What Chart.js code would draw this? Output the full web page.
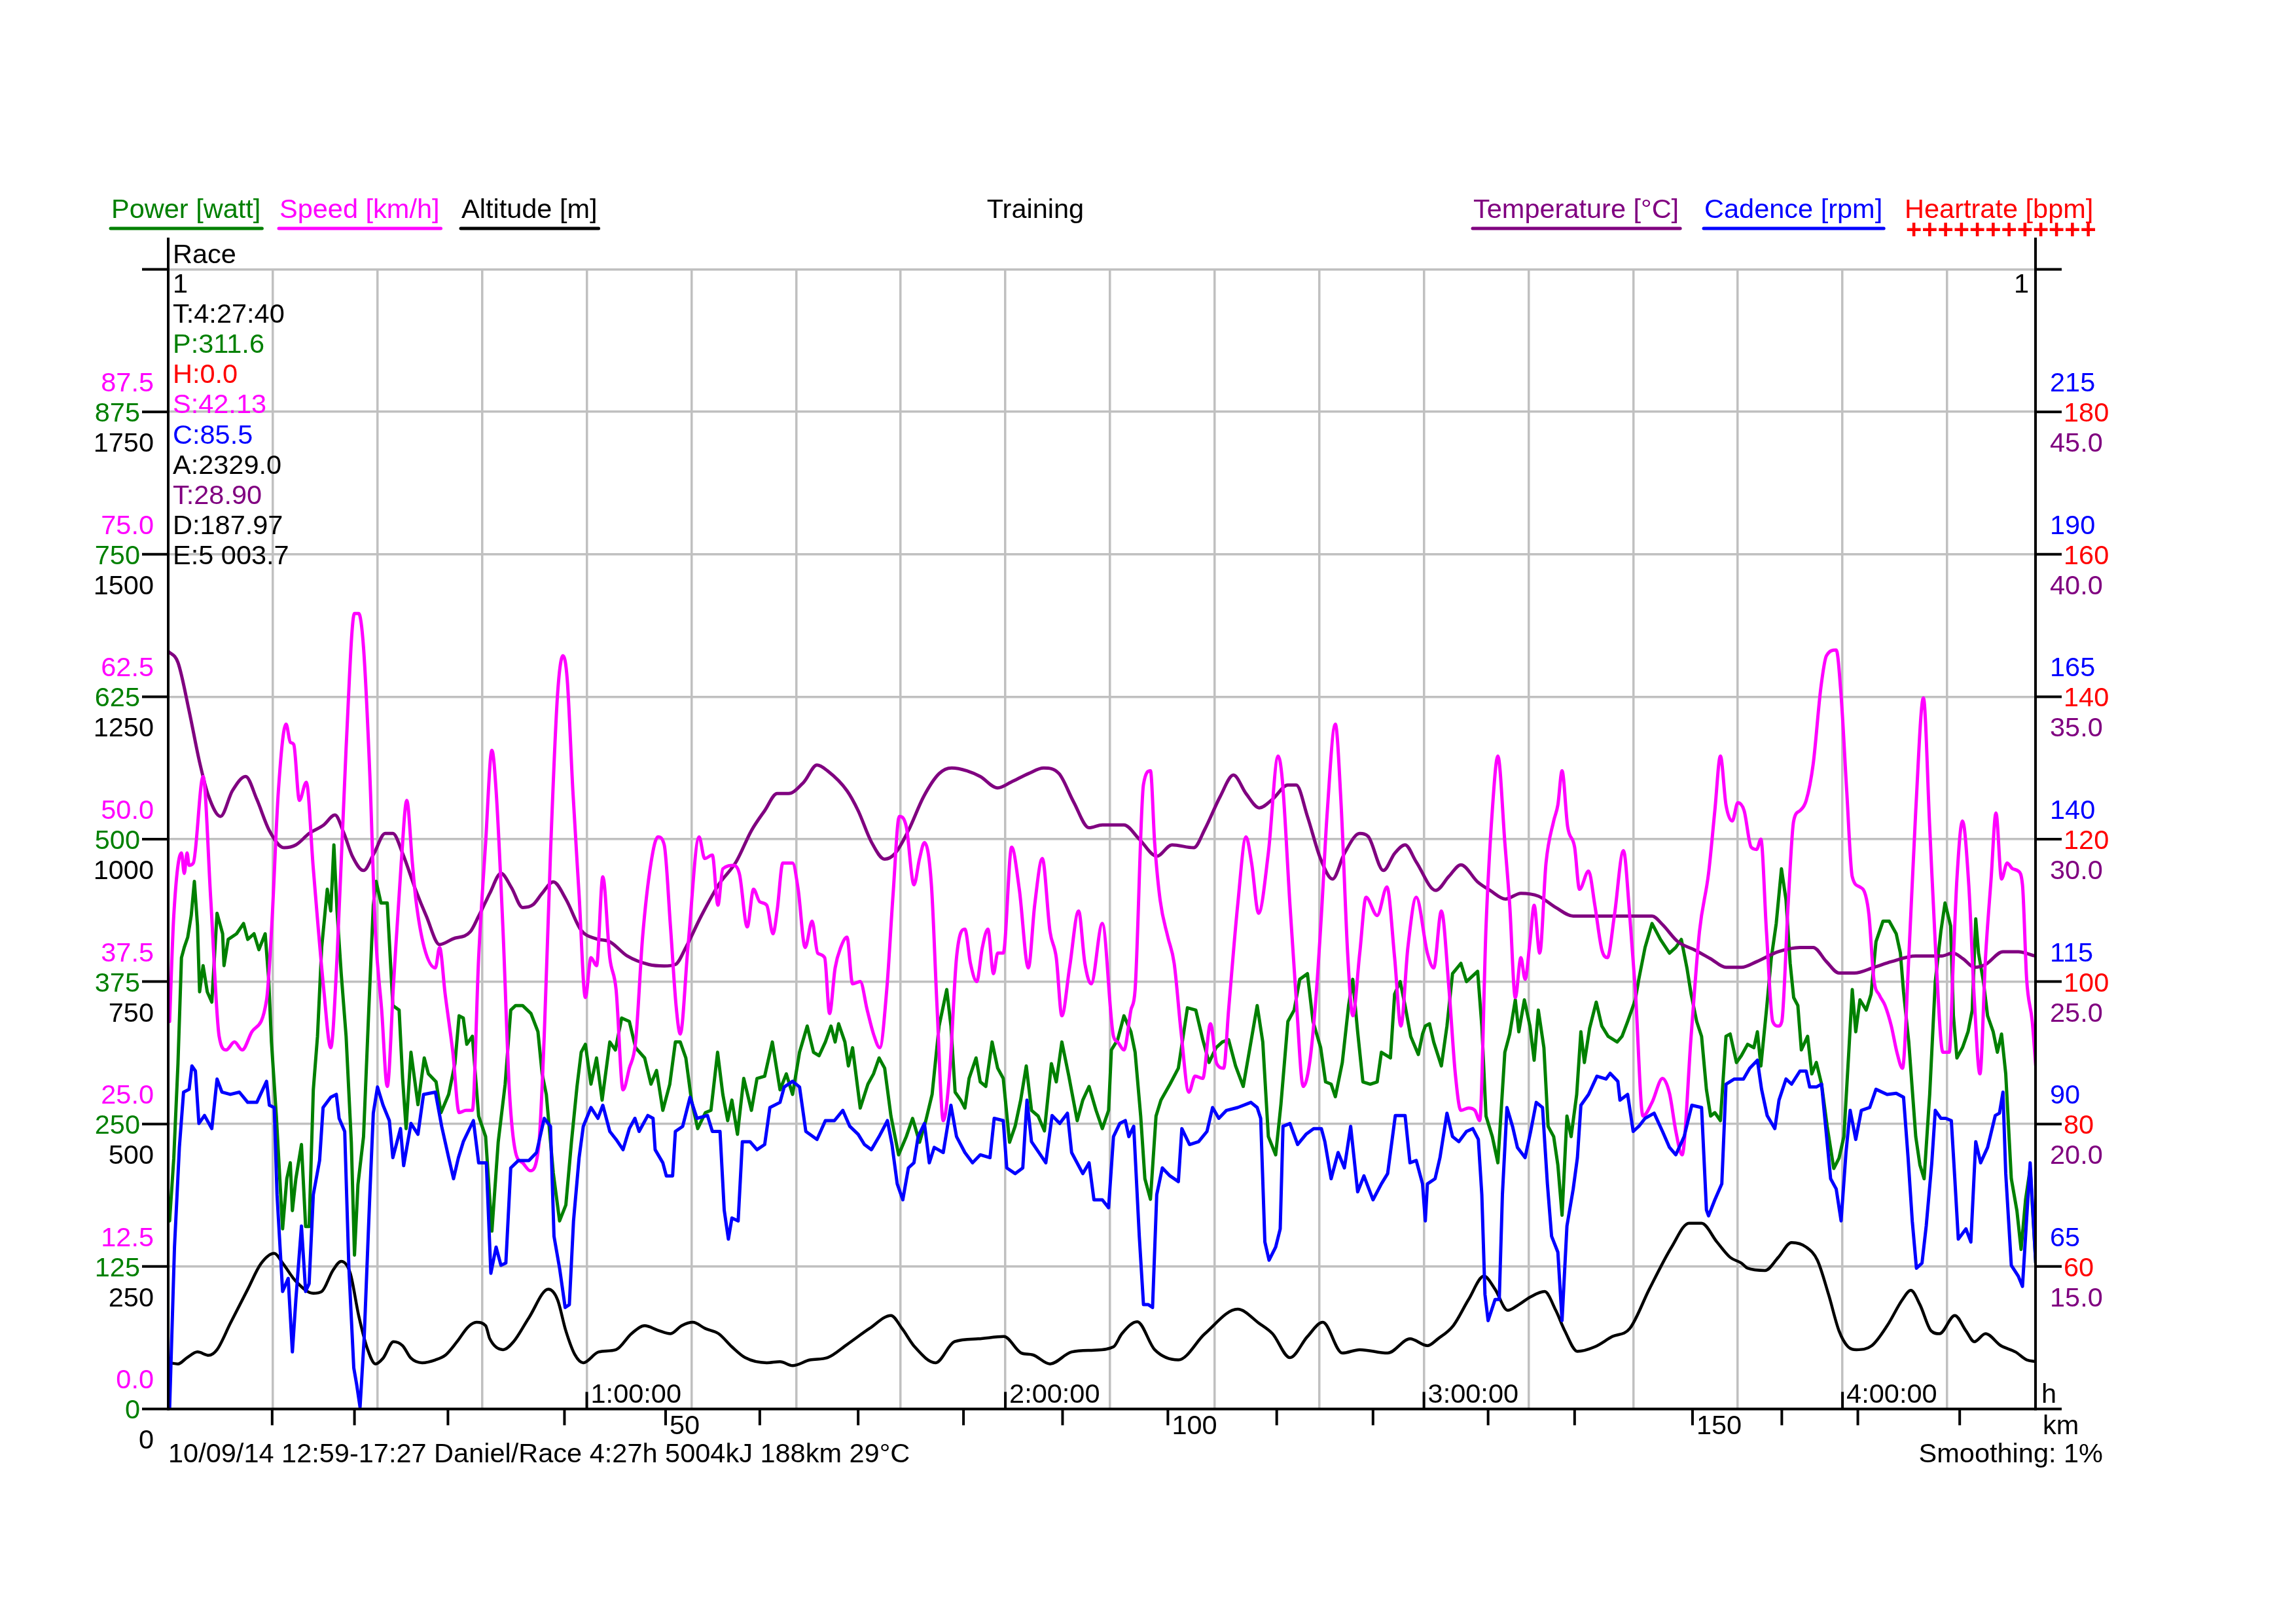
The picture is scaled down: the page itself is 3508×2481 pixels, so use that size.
<!DOCTYPE html>
<html><head><meta charset="utf-8">
<script src="https://cdn.jsdelivr.net/npm/chart.js@4.4.1/dist/chart.umd.min.js"></script>
<style>html,body{margin:0;padding:0;background:#fff;}canvas{display:block;}</style>
</head><body>
<canvas id="c" width="3508" height="2481" style="width:3508px;height:2481px"></canvas>
<script>
// ---------- data (time in minutes, value in series unit) ----------
const speedData = [[0.2,34.0],[0.8,43.3],[1.9,48.8],[2.3,47.0],[2.7,48.8],[3.0,47.7],[3.6,47.9],[5.0,55.5],[6.1,44.7],[7.3,32.7],[8.3,31.5],[9.5,32.2],[10.6,31.5],[12.0,33.1],[14.1,35.9],[14.8,41.9],[15.8,54.3],[16.9,60.1],[17.5,58.5],[18.0,58.3],[18.8,53.4],[19.8,55.0],[20.8,47.4],[22.3,36.8],[23.3,31.7],[24.2,39.6],[25.5,58.0],[26.7,69.8],[27.3,69.8],[28.0,66.8],[28.9,55.7],[29.7,41.9],[30.6,35.0],[31.4,28.3],[32.3,37.3],[33.4,47.9],[34.2,53.4],[35.0,47.9],[35.5,44.7],[36.7,40.5],[38.3,38.7],[38.9,40.5],[39.7,36.4],[40.8,31.3],[41.7,26.0],[42.7,26.2],[43.6,26.2],[44.5,39.6],[45.5,49.7],
[46.4,57.8],[47.0,54.3],[48.0,41.9],[48.9,28.0],[49.8,22.5],[50.8,21.6],[51.9,20.9],[53.1,23.0],[53.9,32.7],[54.8,48.8],[55.8,62.6],[56.6,66.1],[57.2,64.0],[58.0,54.3],[58.9,45.1],[59.8,36.1],[60.6,39.6],[61.4,38.9],[62.3,46.7],[63.3,39.6],[64.2,36.8],[65.2,28.0],[66.1,29.9],[67.0,32.2],[68.0,41.4],[69.2,47.9],[70.2,50.2],[71.1,49.5],[72.0,42.3],[72.8,35.4],[73.4,32.9],[74.5,40.5],[76.1,50.2],[76.9,48.3],[78.0,48.6],[78.8,44.2],[79.5,47.4],[81.1,47.7],[81.9,46.9],[83.0,42.3],[83.9,45.6],[84.8,44.5],[85.8,44.2],[86.7,41.7],[87.3,43.8],[88.1,47.9],[89.5,47.9],
[90.3,45.6],[91.3,40.5],[92.3,42.8],[93.1,40.0],[94.1,39.6],[94.8,34.7],[95.6,38.7],[96.4,40.5],[97.3,41.4],[98.1,37.3],[99.2,37.5],[100.2,35.0],[101.1,32.9],[102.0,31.7],[103.0,36.8],[103.9,45.1],[104.8,52.0],[105.8,51.1],[106.9,46.0],[107.7,48.3],[108.4,49.7],[109.4,46.0],[110.2,35.4],[111.1,25.3],[112.0,29.4],[113.0,39.6],[114.2,42.1],[115.0,39.1],[115.9,37.5],[116.7,40.5],[117.5,42.1],[118.3,38.2],[118.9,40.0],[119.7,40.0],[120.9,49.3],[122.0,45.6],[123.3,38.7],[124.2,44.2],[125.3,48.3],[126.4,41.9],[127.3,39.6],[128.1,34.5],[129.2,38.7],[130.5,43.7],[131.4,39.1],[132.3,37.3],[133.9,42.6],
[135.5,32.7],[136.1,32.2],[137.0,31.5],[138.0,35.0],[138.6,36.8],[139.8,54.8],[140.8,56.0],[141.4,49.7],[142.2,44.6],[143.3,41.4],[144.2,39.1],[145.2,33.0],[146.3,27.8],[147.2,29.2],[148.3,29.0],[149.4,33.8],[150.3,30.3],[151.3,29.9],[152.0,35.0],[153.3,44.2],[154.5,50.2],[155.3,47.9],[156.3,43.5],[157.7,48.8],[159.1,57.3],[159.7,55.2],[160.8,44.2],[161.7,35.9],[162.7,28.3],[163.6,30.3],[164.5,35.9],[165.3,43.3],[166.1,52.0],[167.3,60.1],[168.1,53.4],[169.1,39.6],[169.8,34.5],[170.8,40.0],[171.7,44.9],[173.3,43.3],[174.7,45.8],[175.8,39.6],[176.7,33.6],[177.7,40.5],[178.9,44.9],
[180.5,40.0],[181.4,38.7],[182.5,43.7],[183.6,36.8],[184.5,29.4],[185.3,26.2],[186.4,26.4],[187.3,26.2],[188.0,25.3],[188.9,42.3],[189.8,52.5],[190.6,57.3],[191.6,49.7],[192.3,44.2],[193.1,36.1],[193.9,39.6],[194.5,37.7],[195.2,41.0],[195.8,44.2],[196.6,40.0],[197.5,47.9],[198.6,51.6],[199.2,53.0],[199.8,56.0],[200.6,51.1],[201.6,49.3],[202.3,45.6],[203.6,47.2],[204.5,44.2],[205.5,40.3],[206.3,39.6],[207.3,43.3],[208.6,49.0],[209.5,43.3],[210.3,36.8],[211.4,25.7],[212.7,26.9],[214.2,29.0],[215.2,27.7],[216.1,24.4],[217.0,22.3],[218.3,32.7],[219.5,41.9],[220.8,47.0],[221.7,52.5],[222.5,57.3],[223.3,53.0],[224.2,51.6],[225.0,53.2],
[225.9,52.5],[226.9,49.3],[227.7,49.1],[228.3,50.0],[229.1,41.9],[230.0,34.0],[230.8,33.6],[231.3,34.0],[232.2,44.2],[233.0,51.6],[233.9,52.5],[234.8,53.4],[235.8,56.6],[236.9,63.3],[237.7,66.1],[239.1,66.6],[239.8,62.6],[240.6,54.3],[241.4,46.7],[242.5,45.8],[243.3,45.1],[243.8,43.3],[244.5,37.7],[245.3,36.3],[246.1,35.4],[247.0,33.6],[247.8,31.3],[248.6,29.9],[249.5,39.6],[250.5,52.5],[251.6,62.4],[252.5,51.1],[253.4,39.6],[254.4,31.3],[255.3,31.3],[255.9,39.6],[256.4,46.5],[257.2,51.6],[258.1,46.0],[258.9,35.9],[259.7,29.4],[260.5,39.6],[261.3,46.5],[262.0,52.3],[262.8,46.5],[263.6,47.9],[264.4,47.4],[265.2,47.2],[265.8,46.0],[266.4,37.7],[267.2,34.0],[267.7,30.1]];

const powerData = [[0.2,165],[0.8,220],[1.4,303],[1.9,396],[2.3,405],[2.8,414],[3.3,433],[3.75,463],[4.2,424],[4.5,366],[5.0,389],[5.6,366],[6.25,357],[7.0,435],[7.8,417],[8.0,389],[8.6,412],[9.8,417],[10.8,426],[11.4,412],[12.3,417],[13.0,403],[13.9,417],[14.4,377],[14.8,322],[15.5,257],[16.4,158],[17.0,202],[17.5,216],[17.8,174],[18.3,202],[19.1,232],[19.7,160],[20.2,160],[20.8,280],[21.4,327],[22.0,405],[22.8,456],[23.3,437],[23.75,495],[24.2,437],[24.8,382],[25.5,327],[26.25,234],[26.7,135],[27.2,197],[28.0,239],[28.75,350],[29.4,442],[29.8,463],[30.5,444],[31.4,444],[32.2,354],[33.1,350],[33.6,290],[34.1,246],[34.8,313],[35.8,267],[36.7,308],[37.3,294],[38.4,287],[39.1,260],[40.2,276],[41.1,303],[41.7,345],[42.3,343],[42.8,320],[43.6,327],[44.5,257],[45.5,239],
[46.4,156],[47.3,234],[48.3,285],[49.1,350],[49.8,354],[50.8,354],[52.0,347],[53.0,331],[53.6,294],[54.2,276],[55.2,207],[56.1,165],[57.0,179],[57.8,234],[58.6,283],[59.2,313],[59.8,320],[60.6,285],[61.4,308],[62.2,271],[63.3,322],[64.1,315],[65.0,343],[66.1,340],[67.0,317],[68.3,308],[69.2,285],[70.0,297],[70.9,262],[71.9,285],[72.7,322],[73.4,322],[74.2,308],[75.0,271],[75.9,246],[77.0,260],[77.8,262],[78.75,313],[79.5,276],[80.2,253],[80.8,271],[81.6,241],[82.5,290],[83.6,262],[84.4,290],[85.5,292],[86.6,322],[87.7,280],[88.6,294],[89.5,276],
[90.5,313],[91.6,336],[92.5,313],[93.3,310],[94.2,322],[95.0,336],[95.6,322],[96.1,338],[97.0,322],[97.5,301],[98.1,317],[99.2,264],[100.3,285],[101.1,294],[101.9,308],[102.7,299],[103.6,257],[104.7,223],[105.8,239],[106.7,255],[107.7,234],[108.6,253],[109.5,276],[110.5,336],[111.6,368],[112.2,336],[112.8,278],[113.6,271],[114.2,264],[114.8,290],[115.8,308],[116.4,287],[117.2,283],[118.1,322],[118.9,299],[119.7,290],[120.6,234],[121.4,248],[122.2,271],[123.0,301],[123.75,262],[124.7,257],[125.6,244],[126.6,303],[127.3,287],[128.1,322],[129.1,292],[130.3,253],[131.1,271],[132.0,283],[133.0,262],[133.9,246],[134.8,262],
[135.2,315],[136.1,324],[137.0,345],[138.0,331],[138.6,313],[139.4,257],[140.0,202],[140.8,184],[141.6,257],[142.3,271],[143.6,285],[144.8,299],[146.1,352],[147.3,350],[148.3,324],[149.2,304],[150.2,317],[151.1,322],[152.0,324],[153.0,301],[154.1,283],[155.2,322],[156.1,354],[156.9,322],[157.7,239],[158.75,223],[159.5,267],[160.5,340],[161.4,350],[162.2,377],[163.3,382],[164.1,340],[165.2,317],[165.9,287],[166.7,285],[167.3,274],[168.3,304],[169.2,354],[169.8,377],[170.5,331],[171.25,287],[172.3,285],[173.3,287],[173.9,313],[175.2,308],[175.8,364],[176.6,375],[177.3,354],[178.1,327],[179.2,311],[179.8,329],
[180.2,336],[180.8,338],[181.4,322],[182.5,301],[183.3,336],[184.1,382],[185.3,391],[186.1,375],[187.7,384],[188.3,336],[188.9,257],[189.8,239],[190.6,216],[191.6,313],[192.3,329],[193.1,359],[193.6,331],[194.4,359],[195.2,336],[195.8,306],[196.4,350],[197.2,317],[197.8,248],[198.6,239],[199.2,214],[199.8,170],[200.5,257],[201.1,239],[201.9,276],[202.5,331],[203.0,304],[203.75,334],[204.7,357],[205.5,336],[206.4,327],[207.7,322],[208.4,327],[209.2,340],[210.3,359],[210.8,377],[211.7,405],[212.7,426],[213.9,412],[215.2,400],[216.1,405],[216.9,412],[217.7,387],[218.3,364],[219.1,340],[219.8,327],[220.5,280],[221.1,257],[221.7,260],[222.5,253],[223.3,327],[223.9,329],[224.8,304],
[225.5,310],[226.4,320],[227.3,317],[227.8,331],[228.3,301],[229.1,350],[229.8,396],[230.5,426],[231.25,474],[231.9,447],[232.5,391],[233.0,361],[233.6,354],[234.1,315],[235.0,327],[235.6,294],[236.25,304],[237.0,285],[237.8,248],[238.75,211],[239.5,220],[240.2,239],[240.9,313],[241.4,368],[241.9,331],[242.5,359],[243.4,350],[244.1,364],[244.8,410],[245.8,428],[246.7,428],[247.7,417],[248.3,400],[248.75,366],[249.5,322],[250.5,239],[251.1,214],[251.7,202],[252.5,276],[253.3,375],[254.1,419],[254.7,444],[255.5,424],[255.9,345],[256.4,308],[257.2,317],[258.0,331],[258.6,350],[259.1,430],[259.5,400],[260.2,375],[260.8,345],[261.6,331],[262.2,313],[262.8,329],[263.4,294],[264.2,202],[265.0,174],[265.6,140],[266.25,184],[266.9,211],[267.7,128]];

const cadenceData = [[0.2,40],[0.9,68.4],[1.6,85.9],[2.2,95.6],[3.0,96.1],[3.4,100.2],[3.9,99.3],[4.4,90.1],[5.2,91.5],[6.25,89.2],[7.0,97.9],[7.7,95.6],[8.9,95.2],[10.2,95.6],[11.4,93.8],[12.7,93.8],[14.1,97.5],[14.5,93.3],[15.2,92.9],[15.6,77.6],[16.4,60.6],[17.2,62.9],[17.8,50],[18.3,59.2],[19.1,72.1],[19.7,60.6],[20.2,62],[20.8,77.6],[21.7,83.6],[22.2,92.9],[23.3,94.7],[24.1,95.2],[24.5,91],[25.3,88.7],[25.9,64.7],[26.6,47.2],[27.0,44.4],[27.5,40.3],[28.1,52.7],[28.9,77.6],[29.4,91.9],[30.0,96.5],[30.8,93.3],[31.7,90.6],[32.2,84.1],[33.3,89.2],[33.75,82.7],[34.8,90.1],[35.8,88.2],[36.6,95.2],[38.3,95.6],[39.2,89.6],[40.2,84.1],[40.9,80.4],[41.6,84.1],[42.3,86.9],[43.75,90.6],[44.5,83.2],
[45.6,83.2],[46.25,63.8],[47.0,68.4],[47.7,65.2],[48.4,65.6],[49.1,82.3],[50.2,83.6],[51.7,83.6],[52.8,85],[53.9,91],[54.8,89.6],[55.3,70.3],[56.1,64.7],[56.9,57.8],[57.5,58.3],[58.1,73],[58.9,84.1],[59.5,89.6],[60.6,92.9],[61.6,91],[62.3,93.3],[63.3,88.7],[64.2,87.3],[65.2,85.5],[66.1,89.2],[66.9,91],[67.5,88.7],[68.75,91.5],[69.5,91],[69.8,85.5],[70.9,83.2],[71.4,80.9],[72.3,80.9],[72.7,88.7],[73.75,89.6],[74.8,94.7],[75.8,91],[77.3,91.5],[78.0,88.7],[79.1,88.7],[79.7,74.9],[80.3,69.8],[80.8,73.5],[81.7,73],[82.3,86.9],[83.4,86.9],[84.4,85.5],[85.5,86.4],[86.25,92.9],[87.7,93.8],[88.3,96.5],[89.5,97.5],
[90.5,96.5],[91.4,88.7],[93.0,87.3],[94.2,90.6],[95.5,90.6],[96.7,92.4],[97.7,89.6],[98.9,88.2],[99.8,86.4],[100.8,85.5],[101.9,87.8],[103.1,90.6],[103.75,86.4],[104.5,79.5],[105.3,76.7],[106.1,82.3],[106.9,83.2],[107.5,87.8],[108.4,90.1],[109.1,83.2],[109.8,85.9],[111.1,85],[112.2,93.3],[113.0,87.8],[114.2,85],[115.3,83.2],[116.4,84.6],[117.8,84.1],[118.4,91],[119.7,90.6],[120.2,82.3],[121.4,81.3],[122.5,82.3],[123.1,94.2],[123.75,86.9],[124.8,85],[125.8,83.2],[126.7,91.5],[127.8,90.1],[128.9,91.9],[129.5,85],[131.1,81.3],[132.0,83.2],[132.7,76.7],[133.9,76.7],[134.8,75.3],[135.5,87.8],
[136.4,90.1],[137.2,90.6],[137.7,87.8],[138.4,89.6],[139.2,70.3],[139.8,58.3],[140.5,58.3],[141.1,57.8],[141.7,77.6],[142.5,82.3],[143.6,80.9],[144.8,79.9],[145.3,89.2],[146.4,86.4],[147.7,86.9],[148.9,88.7],[149.7,92.9],[150.6,91],[151.7,92.4],[153.3,92.9],[155.2,93.8],[156.1,92.9],[156.6,91],[157.2,69.3],[157.8,66.1],[158.75,68.4],[159.4,71.6],[159.8,89.6],[160.8,90.1],[161.9,86.4],[163.1,88.2],[164.2,89.2],[165.3,89.2],[165.8,86.9],[166.7,80.4],[167.7,85],[168.6,82.3],[169.5,89.6],[170.5,78.1],[171.4,80.9],[172.7,76.7],[173.9,79.5],[174.8,81.3],[175.9,91.5],[177.3,91.5],[178.0,83.2],[178.9,83.6],[179.8,79.5],
[180.2,73],[180.5,79.5],[181.6,80.4],[182.3,84.1],[183.3,91.9],[184.1,87.8],[185.0,86.9],[186.1,88.7],[187.0,89.2],[187.8,87.3],[188.3,77.6],[188.75,60.1],[189.2,55.5],[190.2,59.2],[190.8,59.2],[191.25,77.6],[191.9,92.9],[192.7,89.6],[193.4,85.9],[194.5,84.1],[195.3,88.7],[196.1,93.8],[197.0,92.9],[197.7,79.5],[198.3,70.3],[199.2,67.5],[199.8,55.5],[200.5,72.1],[201.4,78.6],[202.0,84.1],[202.5,93.3],[203.6,95.2],[204.8,98.4],[206.1,97.9],[206.7,98.9],[207.8,97.5],[208.1,94.2],[209.2,95.2],[210.0,88.7],[210.8,89.6],[211.7,91],[213.0,91.9],[214.2,88.7],[215.2,85.9],[216.1,84.6],[217.3,87.8],[218.4,93.3],[219.8,92.9],[220.5,74.9],[220.8,73.9],[221.7,76.7],[222.7,79.5],[223.3,97],[224.5,97.9],
[225.8,97.9],[226.7,99.8],[227.8,101.2],[228.4,96.1],[229.2,91.5],[230.3,89.2],[230.9,94.2],[231.9,97.9],[232.7,97],[233.9,99.3],[234.8,99.3],[235.3,96.5],[236.25,96.5],[237.0,97],[237.5,90.6],[238.3,80.4],[239.1,78.6],[239.8,73],[240.5,85],[241.1,92.4],[241.9,87.3],[242.7,92.4],[243.9,92.9],[244.8,96.1],[246.4,95.2],[247.7,95.4],[248.75,94.7],[249.4,84.1],[250.0,73],[250.6,64.7],[251.4,65.6],[252.0,72.1],[252.8,83.2],[253.3,92.4],[254.1,91],[254.8,91],[255.6,90.6],[256.1,80.4],[256.6,69.8],[257.7,71.6],[258.4,69.3],[259.1,86.9],[259.8,83.2],[260.8,85.9],[261.9,91.5],[262.5,91.9],[263.0,95.6],[263.4,81.3],[264.2,65.2],[265.2,63.3],[265.8,61.5],[266.4,73.5],[266.9,83.2],[267.7,65.6]];

const temperatureData = [[0,36.6],[1.4,36.2],[3.0,34.5],[4.5,32.7],[5.8,31.5],[7.5,30.8],[9.2,31.7],[11.1,32.2],[12.7,31.4],[14.5,30.3],[16.6,29.7],[18.3,29.8],[20.2,30.2],[22.3,30.5],[23.9,30.85],[25.2,30.2],[26.4,29.4],[28.0,28.9],[29.5,29.5],[31.1,30.2],[32.2,30.2],[33.6,29.5],[35.5,28.2],[37.0,27.3],[38.9,26.3],[40.8,26.5],[43.3,26.75],[44.5,27.3],[45.5,27.8],[46.1,28.1],[47.7,28.8],[49.2,28.3],[50.8,27.6],[52.3,27.7],[53.6,28.1],[55.2,28.5],[57.0,27.9],[59.2,26.8],[61.4,26.5],[63.3,26.4],[65.8,25.9],[68.9,25.6],[71.1,25.55],[72.7,25.6],[74.2,26.2],[76.4,27.3],[78.9,28.4],[81.4,29.2],[83.6,30.3],[85.5,31.0],[87.3,31.6],[88.9,31.6],[91.1,32.0],[93.0,32.6],[94.5,32.4],[97.3,31.7],[98.9,31.0],[100.8,29.9],[102.7,29.3],[104.2,29.5],[106.1,30.3],[108.3,31.5],[110.5,32.3],[112.3,32.5],[114.5,32.4],[116.4,32.2],[118.9,31.8],[120.8,32.0],[123.3,32.3],[125.5,32.5],[127.7,32.3],[129.8,31.3],[132.0,30.4],[133.9,30.5],[137.0,30.5],[139.2,30.0],[141.7,29.4],[143.9,29.8],[147.0,29.7],[148.6,30.35],[150.8,31.5],[152.7,32.25],[154.5,31.6],[156.4,31.1],[158.3,31.4],[160.5,31.9],[161.7,31.9],[163.3,30.8],[165.2,29.3],[166.9,28.6],[168.6,29.5],[170.8,30.2],[172.0,30.1],[174.2,28.9],[175.8,29.5],[177.3,29.8],[178.9,29.2],[181.7,28.2],[183.6,28.7],[185.3,29.1],[187.7,28.5],[189.5,28.2],[191.7,27.9],[193.9,28.1],[196.4,28.0],[198.9,27.6],[201.4,27.3],[206.4,27.3],[212.7,27.3],[214.2,27.0],[216.4,26.4],[218.9,26.1],[221.1,25.8],[223.3,25.5],[225.5,25.5],[227.7,25.7],[230.8,26.05],[233.9,26.2],[235.8,26.2],[237.7,25.7],[239.5,25.3],[241.7,25.3],[244.5,25.5],[247.0,25.7],[250.5,25.9],[254.2,25.9],[255.8,26.0],[257.3,25.8],[258.9,25.5],[260.5,25.6],[263.0,26.05],[265.2,26.05],[267.6,25.9]];

const altitudeData = [[0.2,81],[1.4,79],[2.7,90],[4.2,100],[5.8,94],[7.0,104],[8.9,150],[11.4,210],[13.3,255],[15.2,273],[16.4,256],[18.3,224],[20.8,203],[22.0,206],[23.6,243],[24.8,259],[26.1,238],[27.3,164],[28.6,104],[29.7,79],[30.8,89],[32.3,118],[33.6,111],[34.8,89],[36.4,81],[38.3,86],[39.8,95],[41.4,118],[43.0,144],[44.2,152],[45.5,146],[46.1,123],[48.0,104],[49.5,118],[51.7,160],[54.5,210],[55.8,192],[57.0,137],[58.3,95],[59.5,81],[61.7,100],[64.2,104],[66.4,132],[68.3,146],[70.2,138],[72.0,132],[73.6,146],[75.2,152],[77.0,141],[78.9,132],[80.8,109],[82.7,90],[85.8,81],[87.7,83],[89.5,76],[92.0,86],[94.5,90],[97.3,113],[100.5,141],[103.6,164],[105.2,141],[107.0,109],[110.0,81],[112.7,118],[116.1,123],[119.8,127],[122.3,98],[123.9,95],[126.4,79],[129.5,100],[132.7,103],[135.5,109],[136.7,132],[138.9,153],[141.4,104],[144.8,86],[148.6,132],[153.3,175],[156.4,150],[158.3,132],[160.8,90],[163.3,127],[165.5,152],[168.3,98],[170.8,104],[174.8,98],[178.0,123],[180.5,111],[182.0,123],[184.2,146],[186.4,192],[188.6,233],[190.2,210],[192.0,173],[193.6,183],[195.2,196],[197.3,206],[198.9,173],[200.2,137],[202.0,101],[204.5,109],[207.0,127],[209.5,141],[212.3,210],[215.5,284],[218.0,326],[219.8,326],[222.0,293],[223.9,266],[225.5,256],[226.4,247],[228.9,243],[230.8,266],[232.7,292],[234.8,284],[236.4,261],[238.0,201],[239.5,137],[240.8,109],[242.0,104],[244.2,111],[246.4,146],[248.6,192],[249.8,208],[251.1,183],[252.7,137],[253.9,132],[256.1,164],[257.7,137],[258.9,118],[260.5,132],[262.7,111],[264.8,100],[266.4,86],[267.7,83]];

const heartrateData = []; // no heart-rate recorded (H:0.0)

// ---------- axes / ticks ----------
const totalMinutes = 267.667;
const gridMinutes = [15,30,45,60,75,90,105,120,135,150,165,180,195,210,225,240,255];
const hourTickMinutes = [60,120,180,240];
const hourTickLabels = ['1:00:00','2:00:00','3:00:00','4:00:00'];
const kmTickMinutes = [14.9,26.7,40.1,56.8,71.3,84.8,98.9,114.0,128.2,143.3,158.9,172.7,189.2,201.6,218.5,231.3,242.2,256.8];
const kmTickValues = [10,20,30,40,50,60,70,80,90,100,110,120,130,140,150,160,170,180];
const kmLabelled = [50,100,150];
const powerGrid = [0,125,250,375,500,625,750,875,1000];
const powerTicks = [0,125,250,375,500,625,750,875];
const speedTicks = [0,12.5,25,37.5,50,62.5,75,87.5];
const altitudeTicks = [0,250,500,750,1000,1250,1500,1750];
const cadenceTicks = [65,90,115,140,165,190,215];
const heartrateTicks = [60,80,100,120,140,160,180];
const temperatureTicks = [15,20,25,30,35,40,45];

const infoLines = [['1','#000'],['T:4:27:40','#000'],['P:311.6','#008000'],['H:0.0','#ff0000'],['S:42.13','#ff00ff'],['C:85.5','#0000ff'],['A:2329.0','#000'],['T:28.90','#800080'],['D:187.97','#000'],['E:5 003.7','#000']];

const GREEN='#008000', MAG='#ff00ff', PURPLE='#800080', BLUE='#0000ff', RED='#ff0000', BLACK='#000000';
const FONT='"Liberation Sans", Arial, Helvetica, sans-serif';
const FS=41.5;

function xy(arr){ return arr.map(p=>({x:p[0], y:p[1]})); }

const decor = {
  id:'decor',
  afterDraw(chart){
    const c=chart.ctx, a=chart.chartArea, s=chart.scales;
    c.save();
    const line=(x1,y1,x2,y2,w)=>{c.lineWidth=w;c.beginPath();c.moveTo(x1,y1);c.lineTo(x2,y2);c.stroke();};
    const txt=(t,x,yc,align,col)=>{c.textAlign=align;c.fillStyle=col;c.fillText(t,x,yc+15);};
    c.font=FS+'px '+FONT; c.textBaseline='alphabetic';
    c.strokeStyle=BLACK; c.lineCap='butt';
    // axis lines
    line(a.left,363,a.left,a.bottom+2,4);
    line(a.right,363,a.right,a.bottom+2,4);
    line(217,a.bottom,3150,a.bottom,4);
    // y tick marks
    powerGrid.forEach(v=>{ if(v>0){const y=s.yP.getPixelForValue(v); line(217,y,a.left,y,4); line(a.right,y,3150,y,4);} });
    // left labels
    speedTicks.forEach(v=>txt(v.toFixed(1),235,s.yS.getPixelForValue(v)-46,'right',MAG));
    powerTicks.forEach(v=>txt(String(v),214,s.yP.getPixelForValue(v),'right',GREEN));
    altitudeTicks.forEach(v=>txt(String(v),235,s.yA.getPixelForValue(v)+46,'right',BLACK));
    // right labels
    cadenceTicks.forEach(v=>txt(String(v),3132,s.yC.getPixelForValue(v)-46,'left',BLUE));
    heartrateTicks.forEach(v=>txt(String(v),3153,s.yH.getPixelForValue(v),'left',RED));
    temperatureTicks.forEach(v=>txt(v.toFixed(1),3132,s.yT.getPixelForValue(v)+46,'left',PURPLE));
    // hour ticks
    hourTickMinutes.forEach((m,i)=>{const x=s.x.getPixelForValue(m); line(x,a.bottom,x,a.bottom-26,4); c.textAlign='left'; c.fillStyle=BLACK; c.fillText(hourTickLabels[i],x+6,a.bottom-9);});
    c.textAlign='left'; c.fillStyle=BLACK; c.fillText('h',a.right+9,a.bottom-9);
    // km ticks
    kmTickMinutes.forEach((m,i)=>{const x=s.x.getPixelForValue(m); line(x,a.bottom,x,a.bottom+25,4);
      if(kmLabelled.includes(kmTickValues[i])){c.textAlign='left';c.fillStyle=BLACK;c.fillText(String(kmTickValues[i]),x+6,a.bottom+39);} });
    c.textAlign='left'; c.fillText('km',a.right+11,a.bottom+39);
    // info block
    txt('Race',264,387,'left',BLACK);
    infoLines.forEach((l,i)=>txt(l[0],264,432+i*46.1,'left',l[1]));
    txt('1',3100,432,'right',BLACK);
    // legend
    const leg=[['Power [watt]',GREEN,170],['Speed [km/h]',MAG,427],['Altitude [m]',BLACK,705],['Temperature [°C]',PURPLE,2251],['Cadence [rpm]',BLUE,2604]];
    c.lineCap='round';
    leg.forEach(l=>{txt(l[0],l[2],318,'left',l[1]); const w=c.measureText(l[0]).width; c.strokeStyle=l[1]; line(l[2]-1,349,l[2]+w+2,349,5);});
    txt('Heartrate [bpm]',2910,318,'left',RED);
    c.font='bold '+FS+'px '+FONT; txt('++++++++++++',2912,349,'left',RED);
    c.font=FS+'px '+FONT;
    txt('Training',1582,318,'center',BLACK);
    // footer
    txt('10/09/14 12:59-17:27 Daniel/Race 4:27h 5004kJ 188km 29°C',257,2219,'left',BLACK);
    txt('Smoothing: 1%',3213,2219,'right',BLACK);
    c.restore();
  }
};

const gridOpts={color:'#c0c0c0',lineWidth:3.5,drawTicks:false};
new Chart(document.getElementById('c'),{
  type:'line',
  data:{datasets:[
    {label:'Altitude [m]',data:xy(altitudeData),yAxisID:'yA',borderColor:BLACK,borderWidth:4.5,pointRadius:0,cubicInterpolationMode:'monotone',order:6},
    {label:'Power [watt]',data:xy(powerData),yAxisID:'yP',borderColor:GREEN,borderWidth:5,pointRadius:0,tension:0,order:5},
    {label:'Temperature [°C]',data:xy(temperatureData),yAxisID:'yT',borderColor:PURPLE,borderWidth:5,pointRadius:0,cubicInterpolationMode:'monotone',order:4},
    {label:'Speed [km/h]',data:xy(speedData),yAxisID:'yS',borderColor:MAG,borderWidth:5,pointRadius:0,cubicInterpolationMode:'monotone',order:3},
    {label:'Cadence [rpm]',data:xy(cadenceData),yAxisID:'yC',borderColor:BLUE,borderWidth:5,pointRadius:0,tension:0,order:2},
    {label:'Heartrate [bpm]',data:xy(heartrateData),yAxisID:'yH',borderColor:RED,borderWidth:5,pointRadius:0,order:1}
  ]},
  options:{
    responsive:false, animation:false, devicePixelRatio:1, parsing:true,
    layout:{padding:{left:257,right:398,top:411.6,bottom:328.6}},
    plugins:{legend:{display:false},tooltip:{enabled:false},title:{display:false}},
    elements:{line:{borderJoinStyle:'round',borderCapStyle:'round'}},
    scales:{
      x:{type:'linear',min:0,max:totalMinutes,afterBuildTicks:sc=>{sc.ticks=gridMinutes.map(v=>({value:v}));},grid:gridOpts,border:{display:false},ticks:{display:false}},
      yP:{type:'linear',position:'left',min:0,max:1000,afterBuildTicks:sc=>{sc.ticks=powerGrid.map(v=>({value:v}));},grid:gridOpts,border:{display:false},ticks:{display:false}},
      yS:{type:'linear',display:false,min:0,max:100},
      yA:{type:'linear',display:false,min:0,max:2000},
      yT:{type:'linear',display:false,min:10,max:50},
      yC:{type:'linear',display:false,min:40,max:240},
      yH:{type:'linear',display:false,min:40,max:200}
    }
  },
  plugins:[decor]
});
</script>
</body></html>
